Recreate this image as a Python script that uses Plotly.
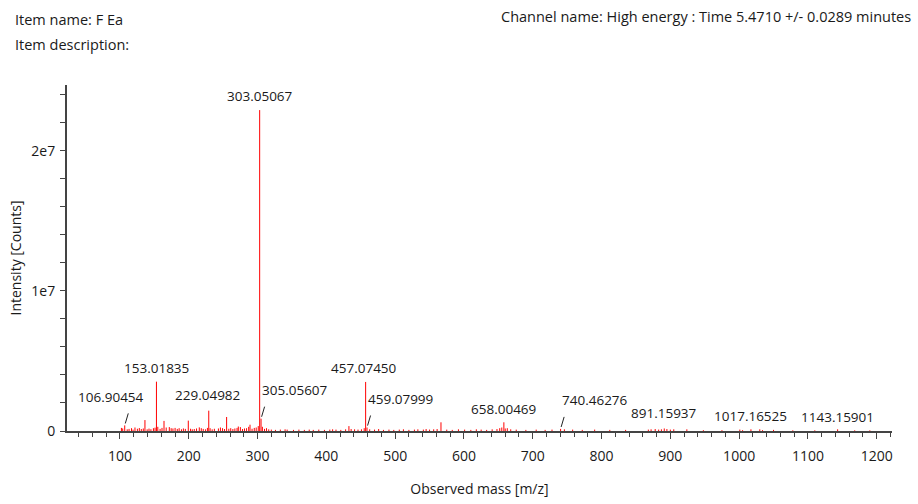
import plotly.graph_objects as go

# ---------------- data ----------------
# labelled peaks (m/z, intensity in counts)
label_mass = [106.90454, 153.01835, 229.04982, 303.05067, 305.05607, 457.07450,
              459.07999, 658.00469, 740.46276, 891.15937, 1017.16525, 1143.15901]
label_intensity = [0.40e6, 3.52e6, 1.45e6, 2.29e7, 0.88e6, 3.50e6,
                   0.25e6, 0.62e6, 0.15e6, 0.18e6, 0.12e6, 0.12e6]

# medium unlabelled peaks
minor_mass = [121.8, 136.3, 164.0, 171.7, 199.3, 215.3, 255.0, 272.0, 289.0, 432.8, 566.6]
minor_intensity = [0.25e6, 0.78e6, 0.72e6, 0.28e6, 0.74e6, 0.26e6, 1.00e6, 0.32e6, 0.45e6, 0.35e6, 0.62e6]

# baseline noise peaks (intensity in millions of counts)
noise_mass = [102.1, 104.0, 110.5, 113.2, 116.8, 119.0, 125.3, 128.1, 131.0, 133.9,
              139.5, 142.2, 145.0, 148.6, 151.0, 155.0, 158.3, 161.1, 167.2, 174.4,
              177.0, 180.1, 183.3, 186.0, 189.4, 192.2, 195.0, 202.6, 205.1, 208.0,
              211.3, 218.2, 221.0, 224.4, 227.1, 231.0, 234.0, 237.2, 243.1, 246.0,
              249.1, 252.0, 258.2, 261.0, 264.1, 267.0, 270.2, 275.0, 278.1, 281.0,
              284.0, 287.1, 292.0, 295.2, 298.0, 301.0, 307.0, 310.1, 313.0, 316.2,
              320.0, 326.0, 333.1, 340.0, 343.0, 352.2, 360.1, 368.0, 375.1, 381.0,
              389.0, 397.2, 405.0, 409.1, 414.0, 421.0, 428.0, 436.0, 441.0, 446.0,
              451.0, 455.0, 463.0, 470.0, 476.0, 483.0, 491.0, 498.0, 506.0, 512.0,
              520.0, 528.0, 533.0, 541.0, 545.0, 550.0, 556.0, 561.0, 575.0, 583.0,
              592.0, 601.0, 610.0, 618.0, 625.0, 633.0, 641.0, 648.0, 652.0, 655.0,
              660.0, 663.0, 668.0, 676.0, 690.0, 705.0, 718.0, 728.0, 746.0, 758.0,
              772.0, 790.0, 812.0, 835.0, 868.0, 872.0, 878.0, 883.0, 887.0, 895.0,
              900.0, 905.0, 924.0, 948.0, 975.0, 1001.0, 1005.0, 1030.0, 1034.0, 1050.0,
              1078.0, 1110.0, 1168.0, 1190.0]
noise_intensity_M = [0.22, 0.18, 0.12, 0.15, 0.20, 0.10, 0.16, 0.21, 0.14, 0.18,
                     0.12, 0.17, 0.13, 0.20, 0.24, 0.30, 0.15, 0.22, 0.25, 0.20,
                     0.18, 0.22, 0.15, 0.20, 0.12, 0.18, 0.15, 0.16, 0.12, 0.14,
                     0.18, 0.20, 0.15, 0.12, 0.22, 0.20, 0.12, 0.16, 0.18, 0.25,
                     0.20, 0.14, 0.16, 0.20, 0.14, 0.18, 0.22, 0.28, 0.14, 0.18,
                     0.20, 0.30, 0.16, 0.22, 0.25, 0.35, 0.30, 0.15, 0.20, 0.12,
                     0.10, 0.08, 0.10, 0.12, 0.10, 0.08, 0.10, 0.08, 0.10, 0.08,
                     0.10, 0.08, 0.10, 0.12, 0.10, 0.08, 0.12, 0.14, 0.12, 0.10,
                     0.12, 0.20, 0.12, 0.10, 0.14, 0.08, 0.10, 0.08, 0.10, 0.12,
                     0.08, 0.10, 0.12, 0.10, 0.14, 0.10, 0.12, 0.14, 0.10, 0.08,
                     0.12, 0.10, 0.08, 0.12, 0.10, 0.08, 0.12, 0.14, 0.20, 0.25,
                     0.18, 0.20, 0.12, 0.10, 0.08, 0.10, 0.08, 0.10, 0.12, 0.10,
                     0.08, 0.10, 0.08, 0.08, 0.10, 0.12, 0.14, 0.10, 0.12, 0.14,
                     0.10, 0.12, 0.12, 0.06, 0.06, 0.10, 0.06, 0.12, 0.06, 0.08,
                     0.05, 0.05, 0.05, 0.05]

x_tick_vals = [100, 200, 300, 400, 500, 600, 700, 800, 900, 1000, 1100, 1200]
y_tick_vals = [0, 1e7, 2e7]
y_tick_text = ["0", "1e7", "2e7"]

header_left = ["Item name: F Ea", "Item description:"]
header_right = "Channel name: High energy : Time 5.4710 +/- 0.0289 minutes"
x_title = "Observed mass [m/z]"
y_title = "Intensity [Counts]"

# ---------------- styling ----------------
FONT = "Open Sans, Noto Sans, sans-serif"
TXT = "#1a1a1a"
AXIS = "#444444"
PEAK = "#ff0000"
FS = 14
FS_HEAD = 14.5
FS_LABEL = 13.5

# label placement offsets in pixels (dx, dy) and whether a leader line is drawn
label_style = {
    106.90454: (-13.5, 28.5, True),
    153.01835: (0, 13.5, False),
    229.04982: (-1, 15.5, False),
    303.05067: (0, 14, False),
    305.05607: (34, 28.5, True),
    457.07450: (-1.5, 13.5, False),
    459.07999: (33, 28.5, True),
    658.00469: (0, 13.5, False),
    740.46276: (34, 28.5, True),
    891.15937: (0, 15, False),
    1017.16525: (0, 13.5, False),
    1143.15901: (0, 12.5, False),
}

# ---------------- build stick spectrum ----------------
all_mass = label_mass + minor_mass + noise_mass
all_int = label_intensity + minor_intensity + [v * 1e6 for v in noise_intensity_M]
order = sorted(range(len(all_mass)), key=lambda k: all_mass[k])
xs, ys = [], []
for k in order:
    xs += [all_mass[k], all_mass[k], None]
    ys += [0, all_int[k], None]

fig = go.Figure()
fig.add_trace(go.Scatter(x=xs, y=ys, mode="lines",
                         line=dict(color=PEAK, width=1), hoverinfo="skip",
                         showlegend=False))

annotations = []
for m, inten in zip(label_mass, label_intensity):
    dx, dy, leader = label_style[m]
    annotations.append(dict(x=m, y=inten, xref="x", yref="y", text=f"{m:.5f}",
                            showarrow=False, xanchor="center", yanchor="middle",
                            xshift=dx, yshift=dy,
                            font=dict(family=FONT, size=FS_LABEL, color=TXT)))
    if leader:
        annotations.append(dict(x=m, y=inten, xref="x", yref="y", text="",
                                showarrow=True, arrowhead=0, arrowwidth=1,
                                arrowcolor="#222222", ax=4, ay=-13.5, standoff=2))

annotations.append(dict(x=-0.0655, y=1.19, xref="paper", yref="paper",
                        text=header_left[0], showarrow=False, xanchor="left",
                        yanchor="middle", font=dict(family=FONT, size=FS_HEAD, color=TXT)))
annotations.append(dict(x=-0.0655, y=1.118, xref="paper", yref="paper",
                        text=header_left[1], showarrow=False, xanchor="left",
                        yanchor="middle", font=dict(family=FONT, size=FS_HEAD, color=TXT)))
annotations.append(dict(x=1.0255, y=1.197, xref="paper", yref="paper",
                        text=header_right, showarrow=False, xanchor="right",
                        yanchor="middle", font=dict(family=FONT, size=FS_HEAD, color=TXT)))

fig.update_layout(
    width=918, height=504,
    margin=dict(l=67, r=26, t=85, b=73),
    paper_bgcolor="white", plot_bgcolor="white",
    font=dict(family=FONT, size=FS, color=TXT),
    annotations=annotations,
    xaxis=dict(range=[23, 1222.2], tickvals=x_tick_vals, ticks="outside",
               ticklen=6, tickwidth=1, tickcolor=AXIS, automargin=False,
               minor=dict(dtick=20, ticks="outside", ticklen=4, tickcolor=AXIS, tickwidth=1),
               showline=True, linecolor=AXIS, linewidth=2, showgrid=False,
               zeroline=False, ticklabelstandoff=5,
               tickfont=dict(family=FONT, size=FS, color=TXT),
               title=dict(text=x_title, standoff=20,
                          font=dict(family=FONT, size=FS, color=TXT))),
    yaxis=dict(range=[0, 2.469e7], tickvals=y_tick_vals, ticktext=y_tick_text,
               ticks="outside", ticklen=5, tickwidth=1, tickcolor=AXIS, automargin=False,
               minor=dict(dtick=2e6, ticks="outside", ticklen=5, tickcolor=AXIS, tickwidth=1),
               showline=True, linecolor=AXIS, linewidth=2, showgrid=False,
               zeroline=False, ticklabelstandoff=2,
               tickfont=dict(family=FONT, size=FS, color=TXT),
               title=dict(text=y_title, standoff=6,
                          font=dict(family=FONT, size=FS, color=TXT))),
)

fig.write_html("out.html")
